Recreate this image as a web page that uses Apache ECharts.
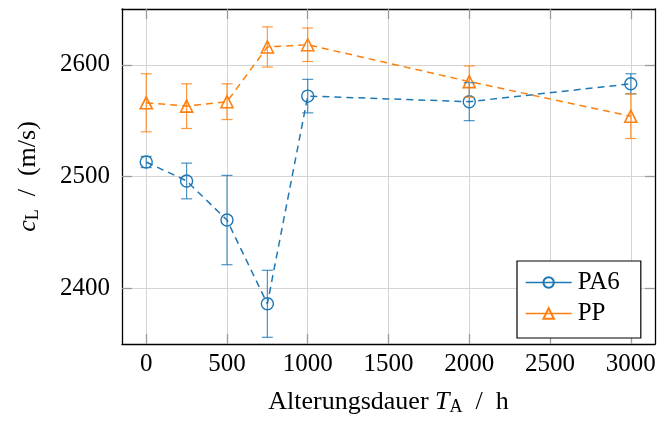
<!DOCTYPE html>
<html>
<head>
<meta charset="utf-8">
<script src="https://cdn.jsdelivr.net/npm/echarts@6/dist/echarts.min.js"></script>
<style>
  html, body { margin: 0; padding: 0; background: #fff; }
  #chart { width: 670px; height: 421px; }
</style>
</head>
<body>
<div id="chart"></div>
<script>
// Aging time in hours
const hours = [0, 250, 500, 750, 1000, 2000, 3000];
// Longitudinal sound velocity (m/s) and its spread
const pa6 = [2513, 2496, 2461, 2386, 2572, 2567, 2583];
const pa6Err = [5, 16, 40, 30, 15, 17, 9];
const pp = [2566, 2563, 2567, 2616, 2618, 2585, 2554];
const ppErr = [26, 20, 16, 18, 15, 14, 20];
// Tick positions
const xTicks = [0, 500, 1000, 1500, 2000, 2500, 3000];
const yTicks = [2400, 2500, 2600];

const BLUE = '#1f77b4';
const ORANGE = '#ff7f0e';
const FONT = 'Liberation Serif';

function errData(vals, errs) {
  return hours.map((h, i) => [h, vals[i] - errs[i], vals[i] + errs[i]]);
}

function errorBars(color) {
  return function (params, api) {
    const x = api.value(0);
    const lo = api.coord([x, api.value(1)]);
    const hi = api.coord([x, api.value(2)]);
    const cap = 5.5;
    const style = { stroke: color, lineWidth: 1.2, opacity: 0.8 };
    return {
      type: 'group',
      children: [
        { type: 'line', shape: { x1: lo[0], y1: lo[1], x2: hi[0], y2: hi[1] }, style },
        { type: 'line', shape: { x1: lo[0] - cap, y1: lo[1], x2: lo[0] + cap, y2: lo[1] }, style },
        { type: 'line', shape: { x1: hi[0] - cap, y1: hi[1], x2: hi[0] + cap, y2: hi[1] }, style }
      ]
    };
  };
}

const plain = v => String(v);
const tickStyle = { show: true, inside: true, length: 10, lineStyle: { color: '#9a9a9a', width: 1.3 } };
const lineBlack = { show: true, onZero: false, lineStyle: { color: '#000', width: 1.3 } };
const titleRich = {
  a: { fontSize: 26, fontFamily: FONT, color: '#000' },
  i: { fontSize: 26, fontFamily: FONT, fontStyle: 'italic', color: '#000' },
  s: { fontSize: 18, fontFamily: FONT, color: '#000', padding: [10, 0, 0, 0] }
};

const chart = echarts.init(document.getElementById('chart'), null, { renderer: 'canvas' });
chart.setOption({
  animation: false,
  backgroundColor: '#fff',
  textStyle: { fontFamily: FONT },
  grid: { left: 122, top: 9, width: 533, height: 338, containLabel: false },
  xAxis: [
    {
      type: 'value', min: -150, max: 3150, position: 'bottom',
      axisLine: lineBlack,
      axisTick: Object.assign({ customValues: xTicks }, tickStyle),
      axisLabel: { customValues: xTicks, formatter: plain, color: '#000', fontSize: 25, fontFamily: FONT, margin: 8 },
      splitLine: { show: true, lineStyle: { color: '#d4d4d4', width: 1 } },
      name: '{a|Alterungsdauer }{i|T}{s|A}{a|  /  h}',
      nameLocation: 'middle', nameGap: 44,
      nameTextStyle: { rich: titleRich }
    },
    {
      type: 'value', min: -150, max: 3150, position: 'top',
      axisLine: lineBlack,
      axisTick: Object.assign({ customValues: xTicks }, tickStyle),
      axisLabel: { show: false },
      splitLine: { show: false }
    }
  ],
  yAxis: [
    {
      type: 'value', min: 2350, max: 2650, position: 'left',
      axisLine: lineBlack,
      axisTick: Object.assign({ customValues: yTicks }, tickStyle),
      axisLabel: { customValues: yTicks, formatter: plain, color: '#000', fontSize: 25, fontFamily: FONT, margin: 12 },
      splitLine: { show: true, lineStyle: { color: '#d4d4d4', width: 1 } },
      name: '{i|c}{s|L}{a|  /  (m/s)}',
      nameLocation: 'middle', nameGap: 80, nameRotate: 90,
      nameTextStyle: { rich: titleRich }
    },
    {
      type: 'value', min: 2350, max: 2650, position: 'right',
      axisLine: lineBlack,
      axisTick: Object.assign({ customValues: yTicks }, tickStyle),
      axisLabel: { show: false },
      splitLine: { show: false }
    }
  ],
  legend: {
    data: ['PA6', 'PP'],
    orient: 'vertical',
    left: 517, top: 261,
    padding: [9, 21, 12, 8],
    itemGap: 6,
    itemWidth: 46, itemHeight: 13,
    backgroundColor: '#fff',
    borderColor: '#000', borderWidth: 1.2, borderRadius: 0,
    lineStyle: { type: 'solid', width: 1.3 },
    textStyle: { fontSize: 25, fontFamily: FONT, color: '#000', lineHeight: 24, padding: [0, 0, 0, 1] }
  },
  series: [
    {
      type: 'custom', name: 'PA6 err', renderItem: errorBars(BLUE),
      data: errData(pa6, pa6Err), encode: { x: 0, y: [1, 2] }, z: 4, silent: true
    },
    {
      type: 'custom', name: 'PP err', renderItem: errorBars(ORANGE),
      data: errData(pp, ppErr), encode: { x: 0, y: [1, 2] }, z: 4, silent: true
    },
    {
      type: 'line', name: 'PA6', data: hours.map((h, i) => [h, pa6[i]]),
      color: BLUE, symbol: 'circle', symbolSize: 12,
      lineStyle: { color: BLUE, width: 1.5, type: [7, 5] },
      itemStyle: { color: 'rgba(0,0,0,0)', borderColor: BLUE, borderWidth: 1.4 },
      z: 3
    },
    {
      type: 'line', name: 'PP', data: hours.map((h, i) => [h, pp[i]]),
      color: ORANGE, symbol: 'triangle', symbolSize: 12,
      lineStyle: { color: ORANGE, width: 1.5, type: [7, 5] },
      itemStyle: { color: 'rgba(0,0,0,0)', borderColor: ORANGE, borderWidth: 1.6 },
      z: 3
    }
  ]
});
</script>
</body>
</html>
